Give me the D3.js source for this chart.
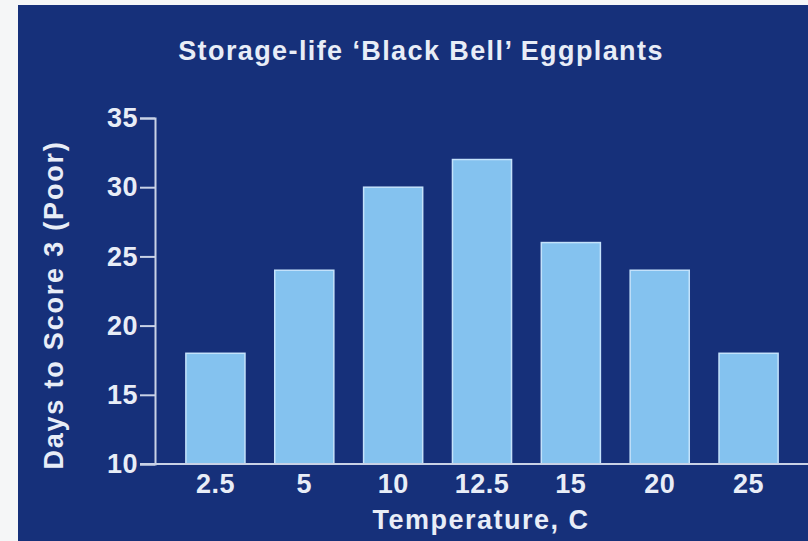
<!DOCTYPE html>
<html>
<head>
<meta charset="utf-8">
<script src="https://cdn.jsdelivr.net/npm/d3@7"></script>
<style>
  html, body { margin: 0; padding: 0; background: #f5f6f7; }
  svg { display: block; }
  text { font-family: "Liberation Sans", Arial, sans-serif; font-weight: bold; fill: #e8edf7; }
</style>
</head>
<body>
<svg id="chart" width="808" height="541"></svg>
<script>
// Storage life of 'Black Bell' eggplants by storage temperature
const temperatures = ["2.5", "5", "10", "12.5", "15", "20", "25"];
const daysToPoor = [18, 24, 30, 32, 26, 24, 18];
const yTicks = [10, 15, 20, 25, 30, 35];

const titleText = "Storage-life \u2018Black Bell\u2019 Eggplants";
const xTitle = "Temperature, C";
const yTitle = "Days to Score 3 (Poor)";

const svg = d3.select("#chart");
const W = 808, H = 541;
const FS = 27;

// slide panel
svg.append("rect")
  .attr("x", 18).attr("y", 5).attr("width", W - 18).attr("height", H - 5)
  .attr("fill", "#16307a");

const plot = { left: 155, right: 808, top: 118, bottom: 464 };

const x = d3.scaleBand()
  .domain(temperatures)
  .range([171, 793])
  .paddingInner(0.335)
  .paddingOuter(0.1675);

const y = d3.scaleLinear()
  .domain([10, 35])
  .range([plot.bottom, plot.top]);

// bars
svg.append("g").selectAll("rect")
  .data(temperatures)
  .join("rect")
  .attr("x", d => x(d))
  .attr("y", (d, i) => y(daysToPoor[i]))
  .attr("width", x.bandwidth())
  .attr("height", (d, i) => y(10) - y(daysToPoor[i]))
  .attr("fill", "#84c2ef")
  .attr("stroke", "#c4e2fb")
  .attr("stroke-width", 1.5);

// y axis
const yAxis = d3.axisLeft(y).tickValues(yTicks).tickSize(15).tickPadding(2).tickFormat(d3.format("d"));
const gy = svg.append("g").attr("transform", `translate(${plot.left},0)`).call(yAxis);
gy.select(".domain").attr("stroke", "#c9d2e6").attr("stroke-width", 2);
gy.selectAll(".tick line").attr("stroke", "#c9d2e6").attr("stroke-width", 2);
gy.selectAll(".tick text")
  .attr("font-size", FS).attr("fill", "#e8edf7")
  .style("font-family", "Liberation Sans, Arial, sans-serif").style("font-weight", "bold")
  .attr("letter-spacing", 0.5);

// x axis
const xAxis = d3.axisBottom(x).tickSize(0).tickPadding(10);
const gx = svg.append("g").attr("transform", `translate(0,${plot.bottom})`).call(xAxis);
gx.select(".domain").remove();
gx.selectAll(".tick text")
  .attr("font-size", FS).attr("fill", "#e8edf7")
  .style("font-family", "Liberation Sans, Arial, sans-serif").style("font-weight", "bold")
  .attr("letter-spacing", 0.5);
svg.append("line")
  .attr("x1", plot.left - 15).attr("x2", plot.right)
  .attr("y1", y(10)).attr("y2", y(10))
  .attr("stroke", "#c9d2e6").attr("stroke-width", 2);

// titles
svg.append("text")
  .attr("x", 421).attr("y", 60)
  .attr("text-anchor", "middle")
  .attr("font-size", FS).attr("letter-spacing", 1.4)
  .text(titleText);

svg.append("text")
  .attr("x", 481).attr("y", 529)
  .attr("text-anchor", "middle")
  .attr("font-size", FS).attr("letter-spacing", 1.5)
  .text(xTitle);

svg.append("text")
  .attr("transform", "translate(63,305) rotate(-90)")
  .attr("text-anchor", "middle")
  .attr("font-size", FS).attr("letter-spacing", 1.8)
  .text(yTitle);
</script>
</body>
</html>
